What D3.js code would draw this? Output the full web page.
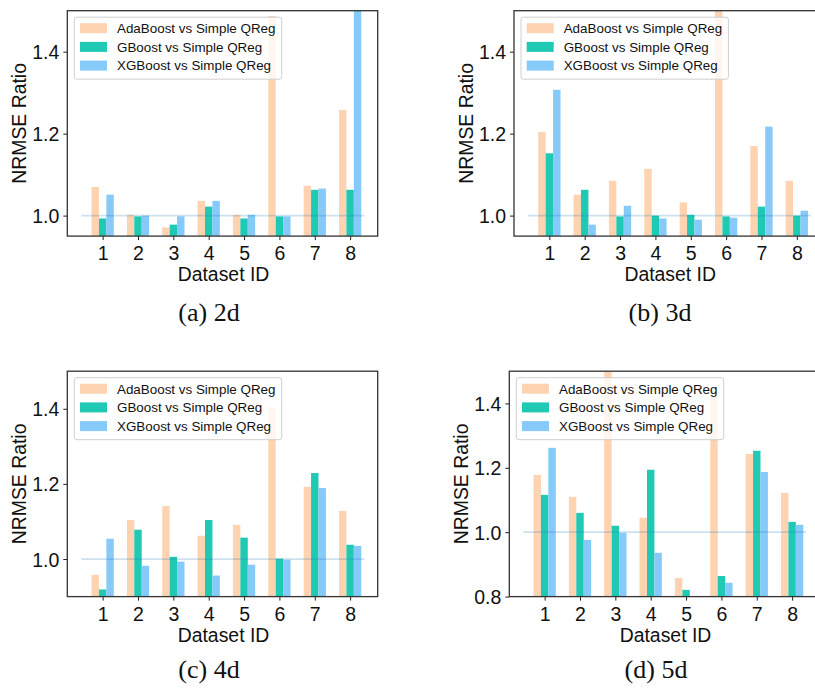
<!DOCTYPE html>
<html>
<head>
<meta charset="utf-8">
<script src="https://cdn.jsdelivr.net/npm/d3@7"></script>
<style>
  html, body { margin: 0; padding: 0; background: #fff; }
  svg { display: block; }
</style>
</head>
<body>
<svg id="chart" width="815" height="689"></svg>
<script>
// ---------------- DATA ----------------
const datasetIds = [1, 2, 3, 4, 5, 6, 7, 8];
const seriesNames = ["AdaBoost vs Simple QReg", "GBoost vs Simple QReg", "XGBoost vs Simple QReg"];

// (a) 2d
const ada2d = [1.070, 1.002, 0.971, 1.036, 1.002, 1.487, 1.073, 1.258];
const gb2d  = [0.993, 0.998, 0.978, 1.022, 0.993, 0.998, 1.063, 1.063];
const xgb2d = [1.051, 1.000, 0.998, 1.036, 1.002, 0.998, 1.066, 1.600];
// (b) 3d
const ada3d = [1.204, 1.051, 1.085, 1.114, 1.032, 1.600, 1.170, 1.085];
const gb3d  = [1.152, 1.063, 0.998, 1.000, 1.002, 0.998, 1.022, 1.000];
const xgb3d = [1.307, 0.978, 1.024, 0.993, 0.990, 0.995, 1.217, 1.012];
// (c) 4d
const ada4d = [0.958, 1.104, 1.141, 1.062, 1.091, 1.403, 1.192, 1.128];
const gb4d  = [0.919, 1.078, 1.006, 1.104, 1.057, 1.001, 1.229, 1.038];
const xgb4d = [1.054, 0.982, 0.993, 0.956, 0.985, 0.998, 1.189, 1.035];
// (d) 5d
const ada5d = [1.178, 1.110, 1.600, 1.045, 0.858, 1.440, 1.243, 1.122];
const gb5d  = [1.116, 1.060, 1.020, 1.194, 0.821, 0.864, 1.253, 1.032];
const xgb5d = [1.262, 0.976, 0.998, 0.936, 0.780, 0.843, 1.187, 1.023];

const yTicksABC = [1.0, 1.2, 1.4];
const yTicksD = [0.8, 1.0, 1.2, 1.4];
const captions = ["(a) 2d", "(b) 3d", "(c) 4d", "(d) 5d"];
const referenceValue = 1.0;

// ---------------- LAYOUT / STYLE ----------------
const colors = ["#FDD3B1", "#20C9B4", "#85CAF9"];
const fontSans = "'Liberation Sans', Arial, Helvetica, sans-serif";
const fontSerif = "'Liberation Serif', 'Times New Roman', serif";
const plotW = 310.4, plotH = 225.4;

const panels = [
  { left: 67.3, top: 10.7, series: [ada2d, gb2d, xgb2d], ydom: [0.95, 1.5], yticks: yTicksABC, cap: captions[0], capX: 209, capY: 321 },
  { left: 514.0, top: 10.7, series: [ada3d, gb3d, xgb3d], ydom: [0.95, 1.5], yticks: yTicksABC, cap: captions[1], capX: 660, capY: 321 },
  { left: 67.3, top: 371.2, series: [ada4d, gb4d, xgb4d], ydom: [0.9, 1.5], yticks: yTicksABC, cap: captions[2], capX: 209, capY: 678 },
  { left: 509.3, top: 371.2, series: [ada5d, gb5d, xgb5d], ydom: [0.8, 1.5], yticks: yTicksD, cap: captions[3], capX: 656, capY: 678 }
];

const svg = d3.select("#chart");
const barW = 0.21;
const offsets = [-0.21, 0, 0.21];

panels.forEach((p, pi) => {
  const g = svg.append("g").attr("transform", `translate(${p.left},${p.top})`);
  const x = d3.scaleLinear().domain([0, 8.78]).range([0, plotW]);
  const y = d3.scaleLinear().domain(p.ydom).range([plotH, 0]);

  const clipId = "clip" + pi;
  g.append("clipPath").attr("id", clipId)
    .append("rect").attr("x", 0).attr("y", 0).attr("width", plotW).attr("height", plotH);

  const plot = g.append("g").attr("clip-path", `url(#${clipId})`);

  p.series.forEach((vals, si) => {
    plot.selectAll(null)
      .data(vals.map((v, i) => ({ id: datasetIds[i], v })))
      .enter().append("rect")
      .attr("x", d => x(d.id + offsets[si] - barW / 2))
      .attr("width", d => x(d.id + offsets[si] + barW / 2) - x(d.id + offsets[si] - barW / 2))
      .attr("y", d => y(Math.max(d.v, p.ydom[0])))
      .attr("height", d => Math.max(0, y(p.ydom[0]) - y(d.v)))
      .attr("fill", colors[si]);
  });

  // reference line at 1.0
  plot.append("line")
    .attr("x1", x(0.4)).attr("x2", x(8.4))
    .attr("y1", y(referenceValue)).attr("y2", y(referenceValue))
    .attr("stroke", "#1f77b4").attr("stroke-opacity", 0.22).attr("stroke-width", 1.8);

  // axes
  const yAxis = d3.axisLeft(y).tickValues(p.yticks).tickFormat(d3.format(".1f")).tickSize(4).tickPadding(4);
  const xAxis = d3.axisBottom(x).tickValues(datasetIds).tickFormat(d3.format("d")).tickSize(4).tickPadding(5);

  const ya = g.append("g").call(yAxis);
  const xa = g.append("g").attr("transform", `translate(0,${plotH})`).call(xAxis);
  [ya, xa].forEach(a => {
    a.select(".domain").remove();
    a.selectAll(".tick line").attr("stroke", "#222").attr("stroke-width", 1);
    a.selectAll(".tick text").attr("fill", "#111")
      .style("font-family", fontSans).style("font-size", "19.5px");
  });
  ya.selectAll(".tick text").attr("dy", "0.36em");
  xa.selectAll(".tick text").attr("dy", "0.78em");

  // spines
  g.append("rect").attr("x", 0).attr("y", 0).attr("width", plotW).attr("height", plotH)
    .attr("fill", "none").attr("stroke", "#333").attr("stroke-width", 1.3);

  // axis labels
  g.append("text")
    .attr("x", plotW / 2 + 1).attr("y", plotH + 45)
    .attr("text-anchor", "middle")
    .style("font-family", fontSans).style("font-size", "19.4px").attr("fill", "#111")
    .text("Dataset ID");
  g.append("text")
    .attr("transform", `translate(${-41},${plotH / 2}) rotate(-90)`)
    .attr("text-anchor", "middle")
    .style("font-family", fontSans).style("font-size", "19.4px").attr("fill", "#111")
    .text("NRMSE Ratio");

  // legend
  const lg = g.append("g").attr("transform", "translate(7,6.5)");
  lg.append("rect").attr("x", 0).attr("y", 0).attr("width", 207.4).attr("height", 62)
    .attr("rx", 2.5).attr("fill", "#fff").attr("fill-opacity", 0.8)
    .attr("stroke", "#cfcfcf").attr("stroke-width", 1);
  seriesNames.forEach((name, si) => {
    const cy = 11 + si * 18.7;
    lg.append("rect").attr("x", 5.7).attr("y", cy - 5).attr("width", 27).attr("height", 10)
      .attr("fill", colors[si]);
    lg.append("text").attr("x", 42.7).attr("y", cy).attr("dy", "0.36em")
      .style("font-family", fontSans).style("font-size", "13.4px").attr("fill", "#111")
      .text(name);
  });

  // caption
  svg.append("text").attr("x", p.capX).attr("y", p.capY)
    .attr("text-anchor", "middle")
    .style("font-family", fontSerif).style("font-size", "26px").attr("fill", "#111")
    .text(p.cap);
});
</script>
</body>
</html>
